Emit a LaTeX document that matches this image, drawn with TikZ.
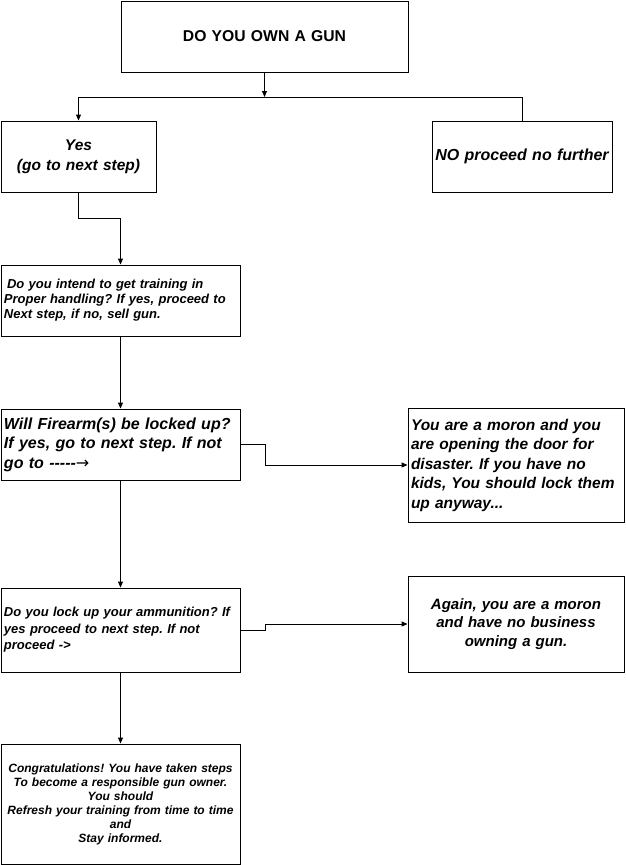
\documentclass[tikz,border=0pt]{standalone}
\usepackage{fontspec}
\setmainfont{Liberation Sans}
\newfontfamily\arrowfont{DejaVu Sans}
\usetikzlibrary{arrows.meta}
\frenchspacing
\begin{document}
\begin{tikzpicture}[x=1pt,y=-1pt,
  box/.style={draw, line width=0.9pt, inner xsep=3pt, inner ysep=0pt},
  conn/.style={line width=0.9pt},
  arr/.style={conn, -{Triangle[length=6pt,width=5pt]}}]
\fill[white] (0,0) rectangle (625,865);
\useasboundingbox (0,0) rectangle (625,865);

\node[box, minimum width=287pt, minimum height=71pt, text width=281pt, align=center,
  font=\fontsize{15.7}{19}\selectfont\bfseries] (top) at (264.5,36.5) {DO YOU OWN A GUN};

\node[box, minimum width=155pt, minimum height=71pt, text width=149pt, align=center,
  font=\fontsize{15.5}{20}\selectfont\bfseries\itshape] (yes) at (78.5,156.5) {Yes\\(go to next step)};

\node[box, minimum width=180pt, minimum height=71pt, text width=174pt, align=center,
  font=\fontsize{16}{19}\selectfont\bfseries\itshape] (no) at (522,156.5) {NO proceed no further};

\node[box, minimum width=239pt, minimum height=71pt, text width=233pt, align=left,
  font=\fontsize{13}{15}\selectfont\bfseries\itshape] (train) at (120.5,300.5)
  {\hspace*{3pt}Do you intend to get training in\\Proper handling? If yes, proceed to\\Next step, if no, sell gun.};

\node[box, minimum width=239pt, minimum height=71pt, text width=233pt, align=left,
  font=\fontsize{16}{19.5}\selectfont\bfseries\itshape] (fire) at (120.5,444.5)
  {Will Firearm(s) be locked up?\\If yes, go to next step. If not\\go to -{}-{}-{}-{}-{\arrowfont\mdseries\upshape →}};

\node[box, minimum width=216pt, minimum height=114pt, text width=210pt, align=left,
  font=\fontsize{15.5}{19.5}\selectfont\bfseries\itshape] (moron) at (516,465)
  {You are a moron and you\\are opening the door for\\disaster. If you have no\\kids, You should lock them\\up anyway...};

\node[box, minimum width=239pt, minimum height=84pt, text width=233pt, align=left,
  font=\fontsize{13}{16.5}\selectfont\bfseries\itshape] (ammo) at (120.5,630)
  {Do you lock up your ammunition? If\\yes proceed to next step. If not\\proceed -{}>};

\node[box, minimum width=216pt, minimum height=96pt, text width=210pt, align=center,
  font=\fontsize{15}{18.5}\selectfont\bfseries\itshape] (again) at (516,624)
  {Again, you are a moron\\and have no business\\owning a gun.};

\node[box, minimum width=239pt, minimum height=120pt, text width=233pt, align=center,
  font=\fontsize{12}{14}\selectfont\bfseries\itshape] (cong) at (120.5,804)
  {Congratulations! You have taken steps\\To become a responsible gun owner.\\You should\\Refresh your training from time to time\\and\\Stay informed.};

\coordinate (bus) at (264.5,97);
\coordinate (bl) at (78.5,97);
\coordinate (br) at (522,97);

\draw[arr] (top.south) -- (bus);
\draw[conn] (bl) -- (br);
\draw[arr] (bl) -- (yes.north);
\draw[conn] (br) -- (no.north);
\draw[arr] (yes.south) -- ++(0,26) -| (train.north);
\draw[arr] (train.south) -- (fire.north);
\draw[arr] (fire.east) -- ++(24.5,0) |- (moron.west);
\draw[arr] (fire.south) -- (ammo.north);
\draw[arr] (ammo.east) -- ++(24.5,0) |- (again.west);
\draw[arr] (ammo.south) -- (cong.north);
\end{tikzpicture}
\end{document}
